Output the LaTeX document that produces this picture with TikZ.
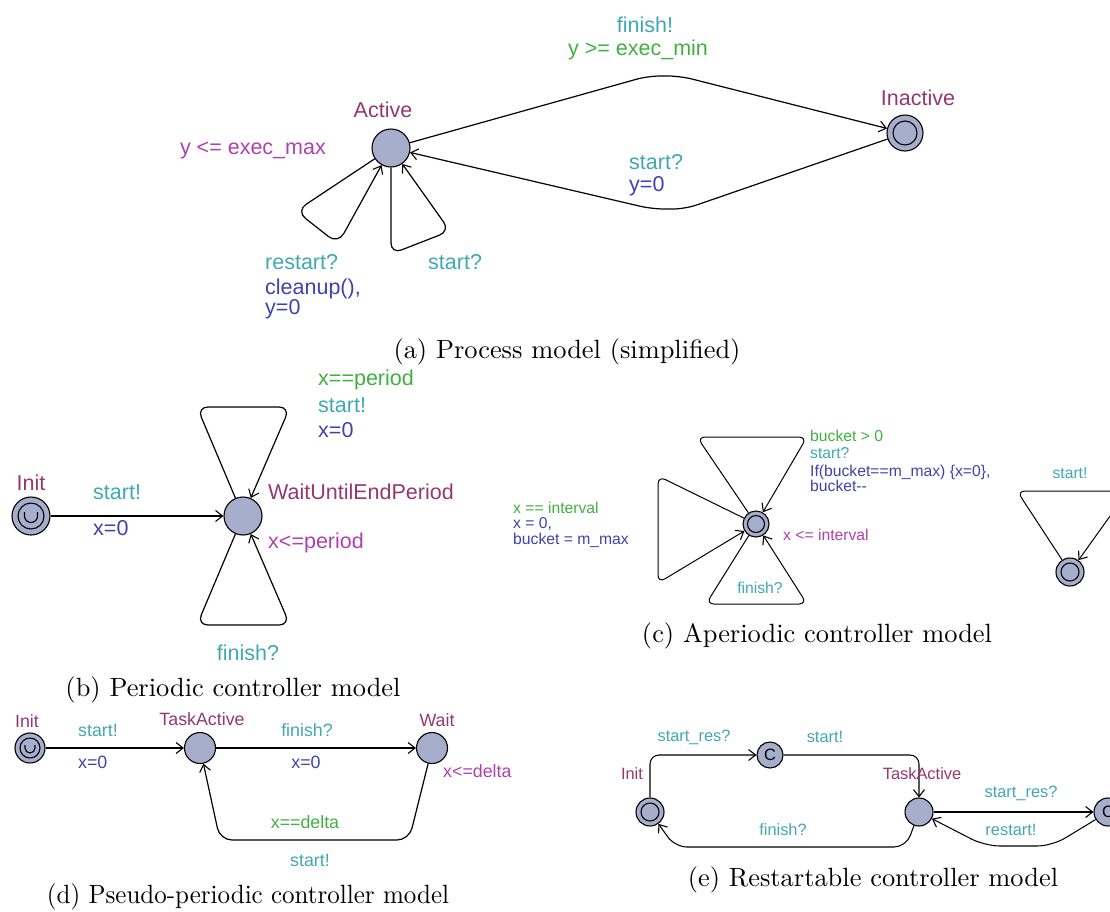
\documentclass[tikz,border=0pt]{standalone}
\usepackage{fontspec}
\usepackage{graphicx}
\setsansfont{Liberation Sans}
\usetikzlibrary{arrows.meta}
\definecolor{cname}{RGB}{150,55,110}
\definecolor{cinv}{RGB}{176,64,176}
\definecolor{csync}{RGB}{64,168,176}
\definecolor{cguard}{RGB}{64,176,64}
\definecolor{cupd}{RGB}{64,64,176}
\definecolor{cfill}{RGB}{166,174,204}
\newcommand\fsA{\fontsize{21.5}{24}\selectfont}
\newcommand\fsC{\fontsize{15.7}{15}\selectfont}
\newcommand\fsD{\fontsize{17.8}{20}\selectfont}
\newcommand\fsE{\fontsize{16.4}{18}\selectfont}
\tikzset{
  loc/.style={circle, draw=black, line width=1.1pt, fill=cfill, minimum size=#1, inner sep=0pt},
  loc/.default=38pt,
  ring/.style={line width=1.1pt},
  edge/.style={draw, line width=1.2pt, rounded corners=9pt},
  arr/.style={-{Straight Barb[length=7pt,width=11pt,line width=1.1pt]}},
  tname/.style={text=cname, inner sep=0pt},
  tinv/.style={text=cinv, inner sep=0pt},
  tsync/.style={text=csync, inner sep=0pt},
  tguard/.style={text=cguard, inner sep=0pt},
  tupd/.style={text=cupd, inner sep=0pt},
  capt/.style={inner sep=0pt, font=\rmfamily\normalsize},
}
\begin{document}
\begin{tikzpicture}[x=1pt,y=-1pt]
\useasboundingbox (0,0) rectangle (1110,911);
\clip (0,0) rectangle (1110,911);

% ---------------- (a) Process model ----------------
\begin{scope}[font=\sffamily\fsA]
\node[loc] (act) at (391,148) {};
\node[loc=36pt] (inact) at (905,133) {};
\draw[ring] (inact.center) circle[radius=12pt];
\node[tname] at (383,110) {Active};
\node[tname] at (918,98) {Inactive};
\node[tinv, anchor=east] at (326,150) {y <= exec\_max};
\draw[edge,arr,rounded corners=12pt] (act) -- (648,76) -- (680,76) -- (inact);
\draw[edge,arr,rounded corners=12pt] (inact) -- (685,209) -- (652,209) -- (act);
\node[tsync] at (645,25) {finish!};
\node[tguard] at (638,50) {y >= exec\_min};
\node[tsync, anchor=west] at (629,162) {start?};
\node[tupd, anchor=west] at (629,186) {y=0};
\draw[edge,arr,rounded corners=12pt] (act) -- (296,211) -- (338,244) -- (act);
\draw[edge,arr,rounded corners=11pt] (act) -- (391,254) -- (450,231) -- (act);
\node[tsync, anchor=west] at (265,262) {restart?};
\node[tupd, anchor=west, align=left, font=\sffamily\fontsize{21.5}{20}\selectfont] at (265,299) {cleanup(),\\y=0};
\node[tsync, anchor=west] at (428,262) {start?};
\end{scope}
\node[capt] at (567,352) {\scalebox{2.64}{(a) Process model (simplified)}};

% ---------------- (b) Periodic controller ----------------
\begin{scope}[font=\sffamily\fsA]
\node[loc] (binit) at (31,516) {};
\draw[ring] (binit.center) circle[radius=13pt];
\draw[ring] ([shift={(-6.5pt,4pt)}]binit.center) -- ++(0,-4pt) arc[start angle=180, end angle=360, radius=6.5pt] -- ++(0,4pt);
\node[loc] (bwait) at (243,516) {};
\draw[edge,arr] (binit) -- (bwait);
\node[tname] at (31,483) {Init};
\node[tsync, anchor=west] at (93,492) {start!};
\node[tupd, anchor=west] at (93,528) {x=0};
\node[tname, anchor=west] at (268,492) {WaitUntilEndPeriod};
\node[tinv, anchor=west] at (268,543) {x<=period};
\draw[edge,arr,rounded corners=11pt] (bwait) -- (197,407) -- (290,407) -- (bwait);
\draw[edge,arr,rounded corners=11pt] (bwait) -- (197,625) -- (290,625) -- (bwait);
\node[tguard, anchor=west] at (318,380) {x==period};
\node[tsync, anchor=west] at (318,405) {start!};
\node[tupd, anchor=west] at (318,430) {x=0};
\node[tsync] at (248,653) {finish?};
\end{scope}
\node[capt] at (233,690) {\scalebox{2.64}{(b) Periodic controller model}};

% ---------------- (c) Aperiodic controller ----------------
\begin{scope}[font=\sffamily\fsC, edge/.append style={line width=1pt, rounded corners=8pt}]
\node[loc=26pt] (apn) at (756,524) {};
\draw[ring] (apn.center) circle[radius=8.5pt];
\draw[edge,arr] (apn) -- (697,437) -- (807,437) -- (apn);
\draw[edge,arr] (apn) -- (658,476) -- (658,583) -- (apn);
\draw[edge,arr] (apn) -- (706,604) -- (807,604) -- (apn);
\node[tguard, anchor=west] at (810,436) {bucket > 0};
\node[tsync, anchor=west] at (810,453) {start?};
\node[tupd, anchor=west, align=left] at (810,478) {If(bucket==m\_max) \{x=0\},\\bucket-{}-};
\node[tinv, anchor=west] at (783,535) {x <= interval};
\node[tsync] at (760,588) {finish?};
\node[tguard, anchor=west] at (513,508) {x == interval};
\node[tupd, anchor=west, align=left, font=\sffamily\fontsize{15.7}{16}\selectfont] at (513,533) {x = 0,\\bucket = m\_max};
\node[loc=28pt] (apn2) at (1070,572) {};
\draw[ring] (apn2.center) circle[radius=9pt];
\draw[edge,arr] (apn2) -- (1017,491) -- (1128,491) -- (apn2);
\node[tsync] at (1070,473) {start!};
\end{scope}
\node[capt] at (817,636) {\scalebox{2.64}{(c) Aperiodic controller model}};

% ---------------- (d) Pseudo-periodic controller ----------------
\begin{scope}[font=\sffamily\fsD]
\node[loc=30pt] (dinit) at (30,748) {};
\draw[ring] (dinit.center) circle[radius=10pt];
\draw[ring] ([shift={(-5pt,3pt)}]dinit.center) -- ++(0,-3pt) arc[start angle=180, end angle=360, radius=5pt] -- ++(0,3pt);
\node[loc=31pt] (dta) at (200,748) {};
\node[loc=31pt] (dwait) at (432,748) {};
\draw[edge,arr] (dinit) -- (dta);
\draw[edge,arr] (dta) -- (dwait);
\draw[edge,arr,rounded corners=12pt] (dwait) -- (409,840) -- (220,840) -- (dta);
\node[tname] at (27,721) {Init};
\node[tsync, anchor=west] at (78,730) {start!};
\node[tupd, anchor=west] at (78,762) {x=0};
\node[tname] at (202,719) {TaskActive};
\node[tsync] at (307,730) {finish?};
\node[tupd] at (306,762) {x=0};
\node[tname] at (437,720) {Wait};
\node[tinv, anchor=west] at (443,771) {x<=delta};
\node[tguard] at (305,822) {x==delta};
\node[tsync] at (310,860) {start!};
\end{scope}
\node[capt] at (248,897) {\scalebox{2.5}[2.64]{(d) Pseudo-periodic controller model}};

% ---------------- (e) Restartable controller ----------------
\begin{scope}[font=\sffamily\fsE, edge/.append style={line width=1.05pt}]
\node[loc=28pt] (einit) at (650,812) {};
\draw[ring] (einit.center) circle[radius=9pt];
\node[loc=26pt] (ec1) at (770,755) {C};
\node[loc=28pt] (eta) at (919,812) {};
\node[loc=28pt] (ec2) at (1108,812) {C};
\draw[edge,arr] (einit) -- (650,755) -- (ec1);
\draw[edge,arr] (ec1) -- (919,755) -- (eta);
\draw[edge,arr] (eta) -- (ec2);
\draw[edge,arr,rounded corners=15pt] (ec2) -- (1052,846) -- (985,846) -- (eta);
\draw[edge,arr,rounded corners=12pt] (eta) -- (906,847) -- (675,847) -- (einit);
\node[tname] at (632,774) {Init};
\node[tsync] at (694,737) {start\_res?};
\node[tsync] at (825,737) {start!};
\node[tname] at (922,774) {TaskActive};
\node[tsync] at (1021,793) {start\_res?};
\node[tsync] at (1011,830) {restart!};
\node[tsync] at (783,830) {finish?};
\end{scope}
\node[capt] at (873,880) {\scalebox{2.64}{(e) Restartable controller model}};
\end{tikzpicture}
\end{document}
